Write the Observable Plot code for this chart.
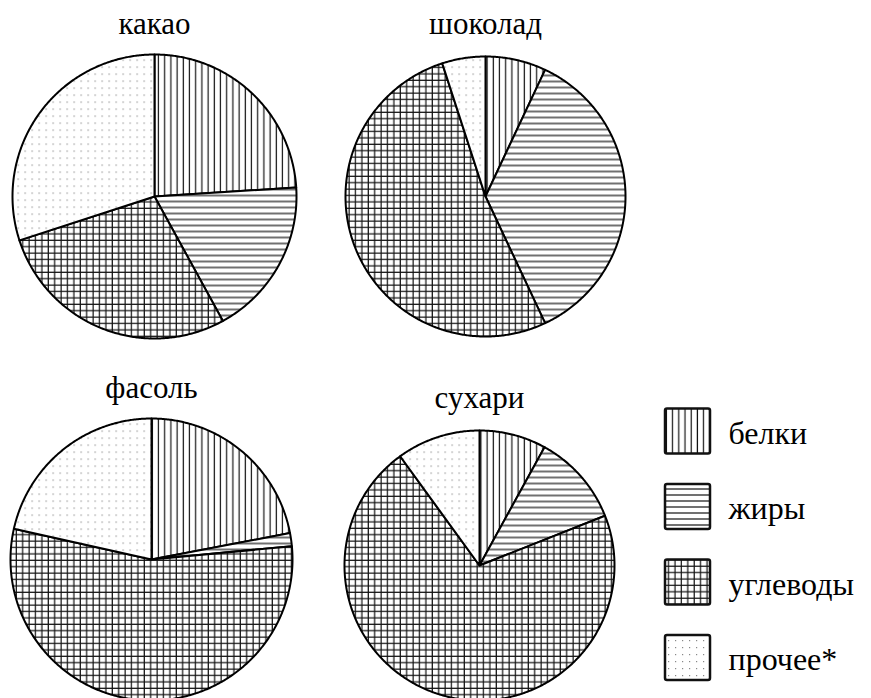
<!DOCTYPE html>
<html>
<head>
<meta charset="utf-8">
<script src="https://cdn.jsdelivr.net/npm/d3@7"></script>
<script src="https://cdn.jsdelivr.net/npm/@observablehq/plot@0.6"></script>
<style>
  html, body { margin: 0; padding: 0; background: white; }
  #chart { position: relative; width: 871px; height: 698px; overflow: hidden; }
  #chart svg text { font-family: "Liberation Serif", "DejaVu Serif", "Times New Roman", serif !important; }
  #defs { position: absolute; width: 0; height: 0; }
</style>
</head>
<body>
<svg id="defs" width="0" height="0">
  <defs>
    <pattern id="pat0" patternUnits="userSpaceOnUse" width="6.2" height="6.2">
      <rect width="6.2" height="6.2" fill="white"/>
      <line x1="3" y1="0" x2="3" y2="6.2" stroke="#111" stroke-width="1.2"/>
    </pattern>
    <pattern id="pat1" patternUnits="userSpaceOnUse" width="6" height="6">
      <rect width="6" height="6" fill="white"/>
      <line x1="0" y1="3" x2="6" y2="3" stroke="#111" stroke-width="1.2"/>
    </pattern>
    <pattern id="pat2" patternUnits="userSpaceOnUse" width="6.4" height="6.4">
      <rect width="6.4" height="6.4" fill="white"/>
      <line x1="3" y1="0" x2="3" y2="6.4" stroke="#111" stroke-width="1.2"/>
      <line x1="0" y1="3" x2="6.4" y2="3" stroke="#111" stroke-width="1.2"/>
    </pattern>
    <pattern id="pat3" patternUnits="userSpaceOnUse" width="7" height="7">
      <rect width="7" height="7" fill="white"/>
      <rect x="3" y="3" width="1.2" height="1.2" fill="#888"/>
    </pattern>
  </defs>
</svg>
<div id="chart"></div>
<script>
// ---- data ----
const products = ["какао", "шоколад", "фасоль", "сухари"];
const categories = ["белки", "жиры", "углеводы", "прочее*"];
const belki    = [24, 7, 22, 8];
const zhiry    = [18, 36, 1.5, 11];
const uglevody = [28, 52, 55, 71];
const prochee  = [30, 5, 21.5, 10];

// ---- layout (pixel positions of each pie) ----
const layout = [
  {cx: 154, cy: 196, r: 142, ty: 33},
  {cx: 485, cy: 196, r: 140, ty: 33},
  {cx: 151, cy: 559, r: 141, ty: 397},
  {cx: 479, cy: 565, r: 135, ty: 407}
];
const legendLayout = {x1: 665, size: 45, y0: 431, step: 75.5, tx: 728};

const series = [belki, zhiry, uglevody, prochee];
const pieGen = d3.pie().sort(null).value(d => d.value).startAngle(0).endAngle(2 * Math.PI);

// polygon vertices for each slice, built from the values via d3.pie
const points = [];
products.forEach((p, pi) => {
  const L = layout[pi];
  const vals = categories.map((c, ci) => ({cat: c, ci, value: series[ci][pi]}));
  pieGen(vals).forEach(a => {
    const key = p + "|" + a.data.cat;
    const pt = ang => ({pie: key, ci: a.data.ci, x: L.cx + L.r * Math.sin(ang), y: L.cy - L.r * Math.cos(ang)});
    points.push({pie: key, ci: a.data.ci, x: L.cx, y: L.cy});
    const n = Math.max(2, Math.ceil((a.endAngle - a.startAngle) / (Math.PI / 360)));
    for (let k = 0; k <= n; k++) points.push(pt(a.startAngle + (a.endAngle - a.startAngle) * k / n));
    points.push({pie: key, ci: a.data.ci, x: L.cx, y: L.cy});
  });
});

const titles = products.map((p, i) => ({label: p, x: layout[i].cx, y: layout[i].ty}));
const legend = categories.map((c, i) => ({
  label: c, ci: i,
  x1: legendLayout.x1, x2: legendLayout.x1 + legendLayout.size,
  y1: legendLayout.y0 + i * legendLayout.step - legendLayout.size / 2,
  y2: legendLayout.y0 + i * legendLayout.step + legendLayout.size / 2,
  tx: legendLayout.tx, ty: legendLayout.y0 + i * legendLayout.step + 12
}));

const font = "Liberation Serif";

const marks = [];
categories.forEach((c, ci) => {
  marks.push(Plot.line(points.filter(d => d.ci === ci), {
    x: "x", y: "y", z: "pie",
    fill: `url(#pat${ci})`, stroke: "black", strokeWidth: 2,
    strokeLinejoin: "round", strokeLinecap: "round"
  }));
  marks.push(Plot.rect(legend.filter(d => d.ci === ci), {
    x1: "x1", x2: "x2", y1: "y1", y2: "y2",
    fill: `url(#pat${ci})`, stroke: "#111", strokeWidth: 2.5, rx: 2
  }));
});
marks.push(Plot.text(titles, {
  x: "x", y: "y", text: "label", textAnchor: "middle", lineAnchor: "bottom",
  fontSize: 31, fontFamily: font, fill: "black"
}));
marks.push(Plot.text(legend, {
  x: "tx", y: "ty", text: "label", textAnchor: "start", lineAnchor: "bottom",
  fontSize: 32, fontFamily: font, fill: "black"
}));

const chart = Plot.plot({
  width: 871, height: 698, margin: 0,
  x: {domain: [0, 871], range: [0, 871], axis: null},
  y: {domain: [0, 698], range: [0, 698], axis: null},
  style: {background: "white", overflow: "visible"},
  marks
});
document.getElementById("chart").appendChild(chart);
</script>
</body>
</html>
